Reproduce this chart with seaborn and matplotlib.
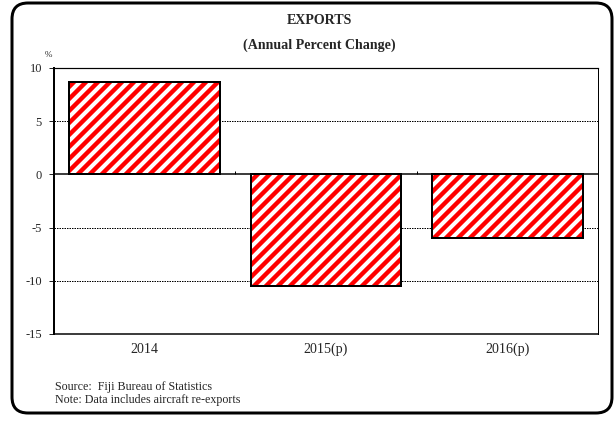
import matplotlib
matplotlib.use('Agg')
import matplotlib.pyplot as plt
import seaborn as sns
import pandas as pd
from matplotlib.patches import FancyBboxPatch

# Data
years = ['2014', '2015(p)', '2016(p)']
pct_change = [8.65, -10.5, -6.0]
y_ticks = [-15, -10, -5, 0, 5, 10]

df = pd.DataFrame({'year': years, 'change': pct_change})

sns.set_style('white')
plt.rcParams['font.family'] = ['Liberation Serif', 'DejaVu Serif']
plt.rcParams['hatch.linewidth'] = 4.4

# dpi 72 so one point = one pixel (keeps the hatch spacing close to the original)
DPI = 72
fig = plt.figure(figsize=(615 / DPI, 421 / DPI), dpi=DPI)
ax = fig.add_axes([0.0878, 0.2067, 0.8846, 0.6318])

# hatched red stripes
sns.barplot(data=df, x='year', y='change', color='white', width=0.83,
            saturation=1, ax=ax, zorder=2)
for p in ax.patches:
    p.set_edgecolor('red')
    p.set_hatch('//')
    p.set_linewidth(0)
# black outline on top
sns.barplot(data=df, x='year', y='change', fill=False, width=0.83,
            edgecolor='black', linewidth=2, ax=ax, zorder=3)

ax.set_ylim(-15, 10)
ax.set_xlim(-0.5, 2.5)
ax.set_yticks(y_ticks)
ax.set_yticklabels([str(t) for t in y_ticks], fontsize=12.5)
ax.tick_params(axis='y', direction='out', length=5, width=1, left=True, pad=7)
ax.tick_params(axis='x', length=0, labelsize=14, pad=9)
ax.set_xlabel('')
ax.set_ylabel('')

for g in [-10, -5, 5]:
    ax.axhline(g, color='black', linestyle=(0, (1.5, 1)), linewidth=1, zorder=1)
ax.axhline(0, color='black', linewidth=1.5, zorder=4)
ax.vlines([0.5, 1.5], 0, 0.35, color='black', linewidth=1, zorder=4)

for s in ax.spines.values():
    s.set_color('black')
ax.spines['top'].set_linewidth(1.2)
ax.spines['right'].set_linewidth(1)
ax.spines['left'].set_linewidth(2)
ax.spines['bottom'].set_linewidth(1.5)

# titles and notes
fig.text(0.52, 0.952, 'EXPORTS', ha='center', va='center', fontsize=14, fontweight='bold')
fig.text(0.52, 0.893, '(Annual Percent Change)', ha='center', va='center', fontsize=14, fontweight='bold')
fig.text(0.073, 0.87, '%', ha='left', va='center', fontsize=9)
fig.text(0.089, 0.081, 'Source:  Fiji Bureau of Statistics', ha='left', va='center', fontsize=12)
fig.text(0.089, 0.049, 'Note: Data includes aircraft re-exports', ha='left', va='center', fontsize=12)

# rounded border (inches at dpi 72)
r = 16 / DPI
box = FancyBboxPatch((12 / DPI + r, 8 / DPI + r), 600 / DPI - 2 * r, 410 / DPI - 2 * r,
                     boxstyle='round,pad=%f' % r, transform=fig.dpi_scale_trans,
                     fill=False, edgecolor='black', linewidth=3)
fig.patches.append(box)

fig.savefig('out.png', dpi=DPI)
plt.close(fig)
